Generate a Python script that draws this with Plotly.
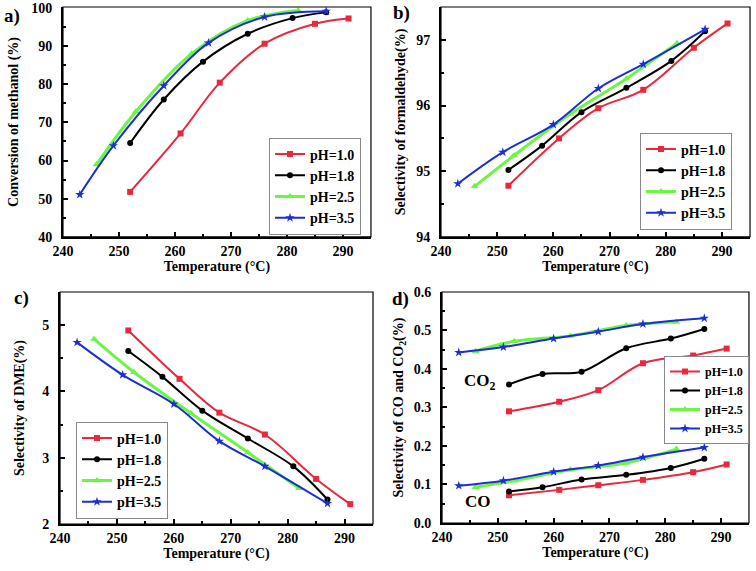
import plotly.graph_objects as go

# ---- data ----
labels = ['pH=1.0', 'pH=1.8', 'pH=2.5', 'pH=3.5']

# a) conversion of methanol (%)
temp_a = [
    [252, 261, 268, 276, 285, 291],
    [252, 258, 265, 273, 281, 287],
    [246, 253, 263, 273, 282],
    [243, 249, 258, 266, 276, 287],
]
conv_a = [
    [51.8, 67.1, 80.4, 90.6, 95.8, 97.2],
    [64.6, 76.0, 85.9, 93.2, 97.3, 98.8],
    [59.0, 72.8, 88.0, 96.7, 99.3],
    [51.1, 63.9, 79.6, 90.8, 97.6, 99.1],
]

# b) selectivity of formaldehyde (%)
temp_b = [
    [252, 261, 268, 276, 285, 291],
    [252, 258, 265, 273, 281, 287],
    [246, 253, 263, 273, 282],
    [243, 251, 260, 268, 276, 287],
]
sel_hcho = [
    [94.78, 95.50, 95.96, 96.24, 96.88, 97.25],
    [95.02, 95.39, 95.90, 96.27, 96.68, 97.13],
    [94.77, 95.24, 95.87, 96.41, 96.95],
    [94.81, 95.29, 95.71, 96.26, 96.63, 97.16],
]

# c) selectivity of DME (%)
temp_c = [
    [252, 261, 268, 276, 285, 291],
    [252, 258, 265, 273, 281, 287],
    [246, 253, 263, 273, 282],
    [243, 251, 260, 268, 276, 287],
]
sel_dme = [
    [4.92, 4.19, 3.68, 3.35, 2.68, 2.30],
    [4.61, 4.22, 3.71, 3.29, 2.87, 2.37],
    [4.79, 4.29, 3.67, 3.08, 2.54],
    [4.74, 4.25, 3.81, 3.25, 2.87, 2.31],
]

# d) selectivity of CO2 and CO (%)
temp_d = temp_c
sel_co2 = [
    [0.290, 0.315, 0.345, 0.415, 0.435, 0.453],
    [0.360, 0.387, 0.393, 0.454, 0.479, 0.504],
    [0.446, 0.472, 0.486, 0.513, 0.522],
    [0.443, 0.457, 0.479, 0.497, 0.517, 0.532],
]
sel_co = [
    [0.072, 0.086, 0.098, 0.112, 0.132, 0.152],
    [0.082, 0.093, 0.113, 0.125, 0.143, 0.167],
    [0.093, 0.110, 0.138, 0.156, 0.192],
    [0.097, 0.110, 0.133, 0.149, 0.171, 0.196],
]

colors = ['#e8283c', '#000000', '#6cf542', '#1c2fd4']
symbols = ['square', 'circle', 'triangle-up', 'star']
msizes = [6, 6, 7, 7]
lwidths = [2, 2, 3, 2]

FONT = 'Liberation Serif'

fig = go.Figure()


def add_series(xs, ys, xa, ya, legend, show=True):
    for i in range(4):
        fig.add_trace(go.Scatter(
            x=xs[i], y=ys[i], name=labels[i],
            mode='lines+markers',
            line=dict(color=colors[i], width=lwidths[i], shape='spline'),
            marker=dict(color=colors[i], symbol=symbols[i], size=msizes[i]),
            xaxis=xa, yaxis=ya, legend=legend, showlegend=show,
        ))


add_series(temp_a, conv_a, 'x', 'y', 'legend')
add_series(temp_b, sel_hcho, 'x2', 'y2', 'legend2')
add_series(temp_c, sel_dme, 'x3', 'y3', 'legend3')
add_series(temp_d, sel_co2, 'x4', 'y4', 'legend4')
add_series(temp_d, sel_co, 'x4', 'y4', 'legend4', show=False)


def xaxis(domain, anchor):
    return dict(
        domain=domain, anchor=anchor, range=[240, 295], dtick=10, tick0=240,
        ticks='inside', ticklen=5, tickwidth=1.5, tickcolor='black',
        minor=dict(ticks='inside', ticklen=3, dtick=5, tickcolor='black'),
        showline=True, linecolor='black', linewidth=2,
        showgrid=False, zeroline=False, automargin=False,
        ticklabelstandoff=0,
        tickfont=dict(size=14, color='black'),
        title=dict(text='Temperature (°C)', font=dict(size=14, color='black'), standoff=0),
    )


def yaxis(domain, anchor, rng, dtick, title, fmt=None, standoff=7):
    d = dict(
        domain=domain, anchor=anchor, range=rng, dtick=dtick, tick0=rng[0],
        ticks='inside', ticklen=5, tickwidth=1.5, tickcolor='black',
        minor=dict(ticks='inside', ticklen=3, dtick=dtick / 2, tickcolor='black'),
        showline=True, linecolor='black', linewidth=2,
        showgrid=False, zeroline=False, automargin=False,
        ticklabelstandoff=6, ticklabeloverflow='allow',
        tickfont=dict(size=14, color='black'),
        title=dict(text=title, font=dict(size=14, color='black'), standoff=standoff),
    )
    if fmt:
        d['tickformat'] = fmt
    return d


def legend_box(x, y, size):
    return dict(
        x=x, y=y, xanchor='right', yanchor='middle',
        bgcolor='white', bordercolor='#8a8a8a', borderwidth=1,
        font=dict(size=size, color='black'), itemwidth=30,
        tracegroupgap=0,
    )


fig.update_layout(
    width=756, height=571,
    margin=dict(l=0, r=0, t=0, b=0),
    plot_bgcolor='white', paper_bgcolor='white',
    font=dict(family=FONT, weight='bold', color='black'),
    xaxis=xaxis([0.0833, 0.4907], 'y'),
    yaxis=yaxis([0.585, 0.9877], 'x', [40, 100.2], 10, 'Conversion of methanol (%)', standoff=9),
    xaxis2=xaxis([0.5833, 0.9921], 'y2'),
    yaxis2=yaxis([0.585, 0.9877], 'x2', [94, 97.5], 1, 'Selectivity of formaldehyde(%)'),
    xaxis3=xaxis([0.0794, 0.4934], 'y3'),
    yaxis3=yaxis([0.0823, 0.4886], 'x3', [2, 5.5], 1, 'Selectivity of DME(%)', standoff=14),
    xaxis4=xaxis([0.5847, 0.9907], 'y4'),
    yaxis4=yaxis([0.0841, 0.4886], 'x4', [0, 0.6], 0.1,
                 'Selectivity of CO and CO<sub>2</sub>(%)', fmt='.1f'),
    legend=legend_box(361 / 756, 1 - 186 / 571, 14),
    legend2=legend_box(732 / 756, 1 - 181 / 571, 14),
    legend3=legend_box(168 / 756, 1 - 470 / 571, 14),
    legend4=legend_box(749 / 756, 1 - 400 / 571, 12),
)

# thin frame on top/right of each panel
for xa, ya in [('x', 'y'), ('x2', 'y2'), ('x3', 'y3'), ('x4', 'y4')]:
    fig.add_shape(type='rect', xref=xa + ' domain', yref=ya + ' domain',
                  x0=0, x1=1, y0=0, y1=1, line=dict(color='black', width=1.2))

# panel letters
for txt, px_, py_ in [('a)', 2 / 756, 1 - 3 / 571), ('b)', 391 / 756, 1 - 0 / 571),
                      ('c)', 12 / 756, 1 - 285 / 571), ('d)', 390 / 756, 1 - 286 / 571)]:
    fig.add_annotation(text=txt, x=px_, y=py_, xref='paper', yref='paper',
                       xanchor='left', yanchor='top',
                       showarrow=False, font=dict(size=19, color='black'))

fig.add_annotation(text='CO<sub>2</sub>', x=246.8, y=0.366, xref='x4', yref='y4',
                   showarrow=False, font=dict(size=17, color='black'))
fig.add_annotation(text='CO', x=246.4, y=0.055, xref='x4', yref='y4',
                   showarrow=False, font=dict(size=17, color='black'))

# drop the default 8px body margin so the figure sits at the window corner
fig.write_html("out.html", config={'displayModeBar': False},
               post_script="document.body.style.margin='0';")
